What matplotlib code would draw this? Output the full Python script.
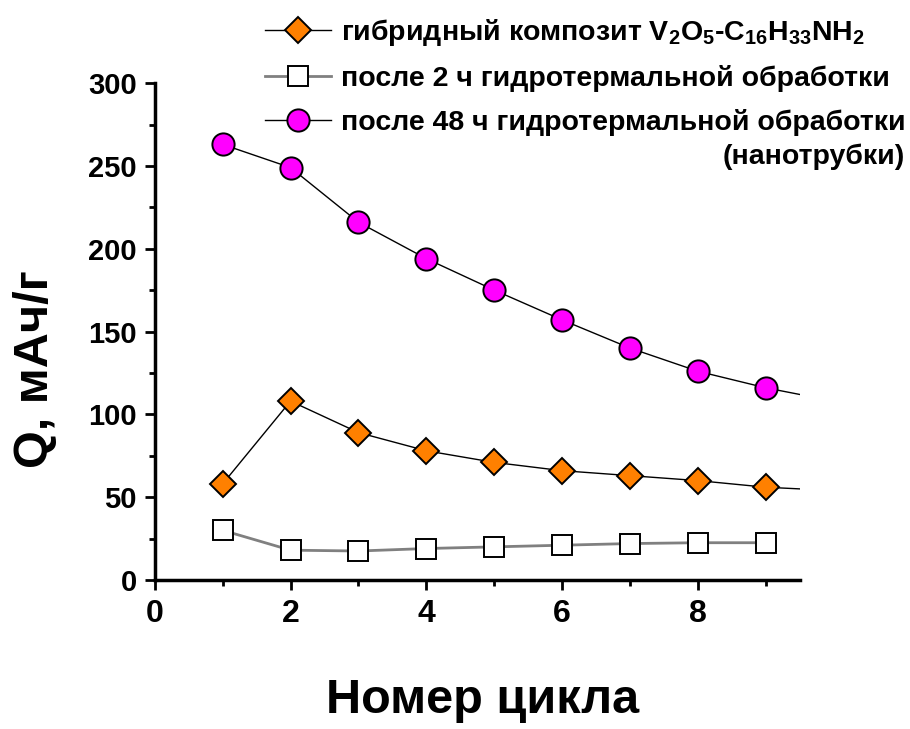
import matplotlib
matplotlib.use("Agg")
import matplotlib.pyplot as plt
from matplotlib.ticker import MultipleLocator
from matplotlib.lines import Line2D

fam = "Liberation Sans"
plt.rcParams['font.family'] = [fam, 'DejaVu Sans']
plt.rcParams['font.weight'] = 'bold'
plt.rcParams['mathtext.fontset'] = 'custom'
plt.rcParams['mathtext.rm'] = fam + ':bold'
plt.rcParams['mathtext.it'] = fam + ':bold'
plt.rcParams['mathtext.bf'] = fam + ':bold'

cycles = [1, 2, 3, 4, 5, 6, 7, 8, 9]
hybrid = [58, 108, 89, 78, 71, 66, 63, 60, 56]
after2h = [30, 18, 17.5, 19, 20, 21, 22, 22.5, 22.5]
after48h = [263, 249, 216, 194, 175, 157, 140, 126, 116]
# trend line continuation to the right edge of the axes
line_end_x = 9.5
hybrid_end = 55
after48h_end = 112

labels = [r"гибридный композит V$_2$O$_5$-C$_{16}$H$_{33}$NH$_2$",
          "после 2 ч гидротермальной обработки",
          "после 48 ч гидротермальной обработки"]
label_extra = "(нанотрубки)"

fig = plt.figure(figsize=(9.1, 7.29), dpi=100)
ax = fig.add_axes([0.170, 0.2044, 0.709, 0.6816])

ax.plot(cycles + [line_end_x], hybrid + [hybrid_end], color='black', lw=1, zorder=2)
ax.plot(cycles, after2h, color='#808080', lw=2, zorder=2)
ax.plot(cycles + [line_end_x], after48h + [after48h_end], color='black', lw=1, zorder=2)

ax.plot(cycles, hybrid, ls='none', marker='D', ms=13.5, mfc='#FF8000', mec='black', mew=1.4, zorder=3)
ax.plot(cycles, after2h, ls='none', marker='s', ms=14.5, mfc='white', mec='black', mew=1.4, zorder=3)
ax.plot(cycles, after48h, ls='none', marker='o', ms=16, mfc='#FF00FF', mec='black', mew=1.4, zorder=3)

lh1 = Line2D([], [], color='black', lw=1, marker='D', ms=13.5, mfc='#FF8000', mec='black', mew=1.4)
lh2 = Line2D([], [], color='#808080', lw=2, marker='s', ms=14.5, mfc='white', mec='black', mew=1.4)
lh3 = Line2D([], [], color='black', lw=1, marker='o', ms=16, mfc='#FF00FF', mec='black', mew=1.4)

ax.set_xlim(0, 9.5)
ax.set_ylim(0, 300)
ax.xaxis.set_major_locator(MultipleLocator(2))
ax.xaxis.set_minor_locator(MultipleLocator(1))
ax.yaxis.set_major_locator(MultipleLocator(50))
ax.yaxis.set_minor_locator(MultipleLocator(25))
for s in ['top', 'right']:
    ax.spines[s].set_visible(False)
for s in ['left', 'bottom']:
    ax.spines[s].set_linewidth(2.5)
ax.tick_params(which='major', direction='out', length=7, width=2, pad=6)
ax.tick_params(which='minor', direction='out', length=4, width=2)
ax.tick_params(axis='y', labelsize=21)
ax.tick_params(axis='x', labelsize=23, pad=7)
for t in ax.get_xticklabels() + ax.get_yticklabels():
    t.set_fontweight('bold')

ax.set_xlabel("Номер цикла", fontsize=35, fontweight='bold')
ax.set_ylabel("Q, мАч/г", fontsize=35, fontweight='bold')
ax.xaxis.set_label_coords((483 - 155) / 645, (580 - 701) / 497)
ax.yaxis.set_label_coords((36 - 155) / 645, (580 - 369) / 497)
ax.xaxis.label.set_va('center')
ax.yaxis.label.set_va('center')

leg = fig.legend([lh1, lh2, lh3], labels, loc='upper right', bbox_to_anchor=(0.995, 0.977),
                 frameon=False, fontsize=20.5, handlelength=2.3, handletextpad=0.35,
                 labelspacing=0.6, borderaxespad=0, borderpad=0)
for t in leg.get_texts():
    t.set_fontweight('bold')
fig.text(905 / 910, 1 - 157 / 729, label_extra, fontsize=20.5, fontweight='bold',
         ha='right', va='center')

fig.savefig("out.png", dpi=100)
